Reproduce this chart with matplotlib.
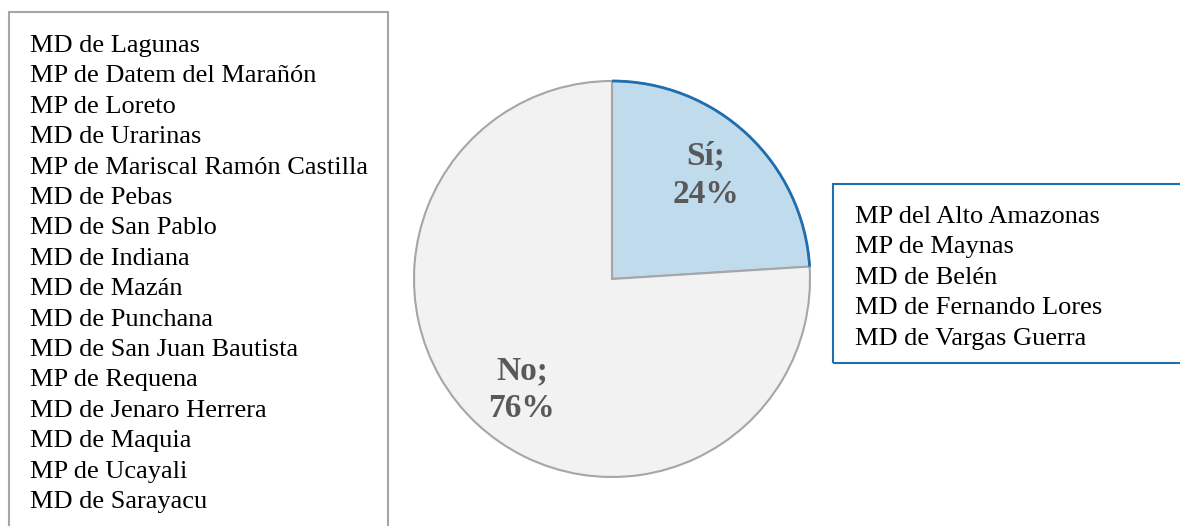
import matplotlib.pyplot as plt
from matplotlib.patches import Rectangle, Arc

# Data
labels = ["Sí", "No"]
shares = [24, 76]
list_no = [
    "MD de Lagunas", "MP de Datem del Marañón", "MP de Loreto", "MD de Urarinas",
    "MP de Mariscal Ramón Castilla", "MD de Pebas", "MD de San Pablo", "MD de Indiana",
    "MD de Mazán", "MD de Punchana", "MD de San Juan Bautista", "MP de Requena",
    "MD de Jenaro Herrera", "MD de Maquia", "MP de Ucayali", "MD de Sarayacu",
]
list_si = [
    "MP del Alto Amazonas", "MP de Maynas", "MD de Belén",
    "MD de Fernando Lores", "MD de Vargas Guerra",
]

colors = ["#C0DCEC", "#F2F2F2"]
edge_gray = "#A6A6A6"
edge_blue = "#1F6FAE"
label_gray = "#595959"

plt.rcParams["font.family"] = ["Liberation Serif", "DejaVu Serif"]

W, H = 1180, 526
fig = plt.figure(figsize=(W / 100, H / 100), dpi=100)


def fx(px):
    return px / W


def fy(py):
    # py measured from top
    return 1 - py / H


# Pie axes: centre (612, 279), radius 198 px
cx, cy, r, pad = 612, 279, 198, 12
ax = fig.add_axes([fx(cx - r - pad), fy(cy + r + pad), (2 * (r + pad)) / W, (2 * (r + pad)) / H])
wedges, _ = ax.pie(shares, colors=colors, startangle=90, counterclock=False,
                   wedgeprops=dict(edgecolor=edge_gray, linewidth=1.5))
lim = (r + pad) / r
ax.set_xlim(-lim, lim)
ax.set_ylim(-lim, lim)
ax.set_aspect("equal")
ax.axis("off")

# blue outline on the arc of the "Sí" wedge
theta2 = 90
theta1 = 90 - 360 * shares[0] / sum(shares)
ax.add_patch(Arc((0, 0), 2, 2, theta1=theta1, theta2=theta2, color=edge_blue, lw=2))

# wedge labels
ax.text(0.475, 0.525, f"{labels[0]};\n{shares[0]}%", ha="center", va="center",
        fontsize=24, fontweight="bold", color=label_gray, linespacing=1.3)
ax.text(-0.455, -0.56, f"{labels[1]};\n{shares[1]}%", ha="center", va="center",
        fontsize=24, fontweight="bold", color=label_gray, linespacing=1.3)

# Left box (No)
fig.add_artist(Rectangle((fx(9), fy(540)), fx(388 - 9), (540 - 12) / H, transform=fig.transFigure,
                         fill=False, edgecolor=edge_gray, linewidth=1.5, clip_on=False))
for i, name in enumerate(list_no):
    fig.text(fx(30), fy(52 + i * 30.4), name, ha="left", va="baseline", fontsize=19, color="black")

# Right box (Sí)
fig.add_artist(Rectangle((fx(833), fy(363)), fx(1200 - 833), (363 - 184) / H, transform=fig.transFigure,
                         fill=False, edgecolor=edge_blue, linewidth=1.5, clip_on=False))
for i, name in enumerate(list_si):
    fig.text(fx(855), fy(222.7 + i * 30.6), name, ha="left", va="baseline", fontsize=19, color="black")

fig.savefig("out.png", dpi=100)
